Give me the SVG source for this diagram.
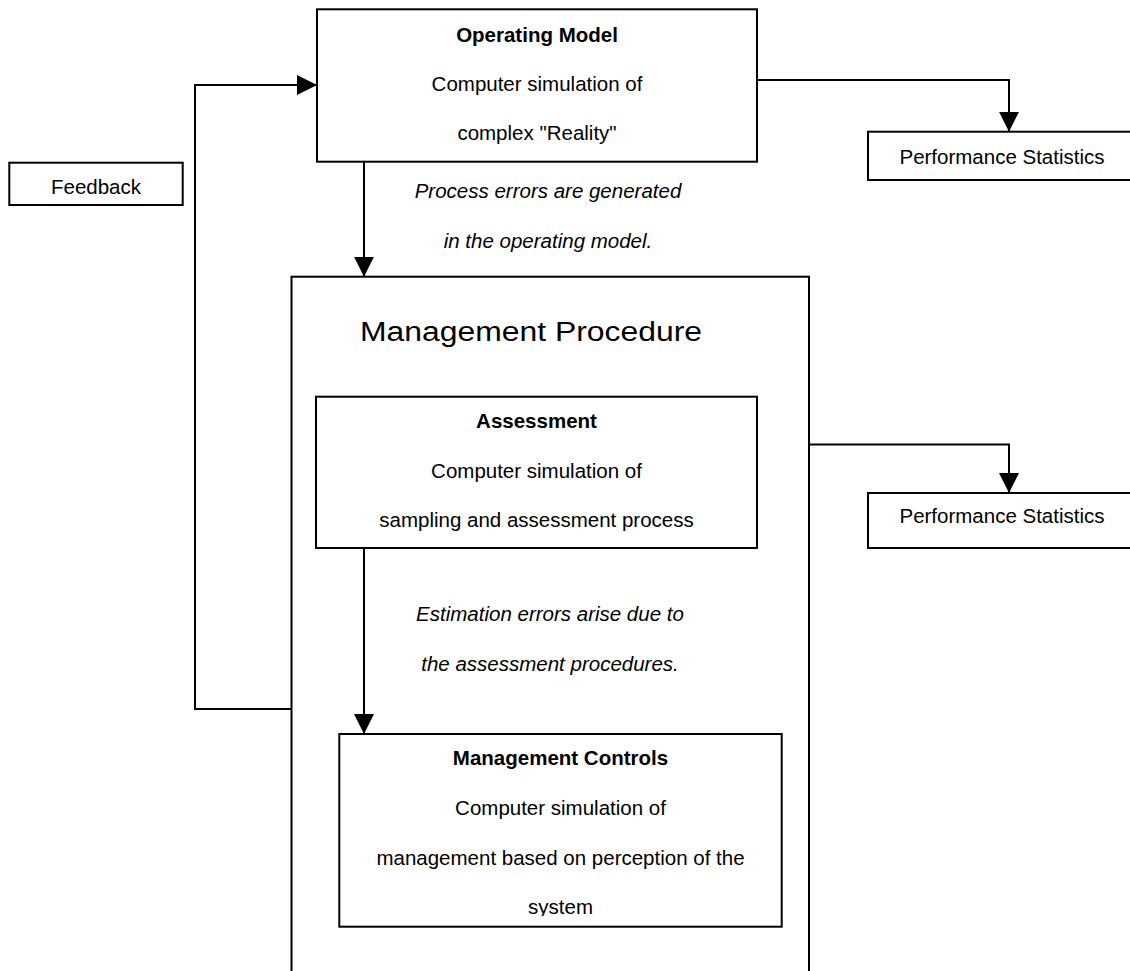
<svg xmlns="http://www.w3.org/2000/svg" width="1130" height="971" viewBox="0 0 1130 971">
<style>
.box{fill:#fff;stroke:#000;stroke-width:2}
.ln{fill:none;stroke:#000;stroke-width:2}
text{font-family:"Liberation Sans",Arial,sans-serif;font-size:20.5px;fill:#000;text-anchor:middle}
.b{font-weight:bold}
.i{font-style:italic}
.t{font-size:27px}
</style>
<defs>
<marker id="ah" markerUnits="userSpaceOnUse" markerWidth="20" markerHeight="20" refX="20" refY="10" orient="auto">
<path d="M0,0 L20,10 L0,20 z" fill="#000"/>
</marker>
<clipPath id="mcclip"><rect x="340" y="735" width="441" height="181"/></clipPath>
</defs>
<rect width="1130" height="971" fill="#fff"/>
<g id="management-procedure">
<rect class="box" x="291.5" y="276.7" width="517.5" height="720"/>
<text class="t" x="531" y="341" textLength="342" lengthAdjust="spacingAndGlyphs">Management Procedure</text>
</g>
<g id="operating-model">
<rect class="box" x="317" y="9.3" width="440" height="152.4"/>
<text class="b" x="537" y="41.7">Operating Model</text>
<text x="537" y="90.7">Computer simulation of</text>
<text x="537" y="140">complex "Reality"</text>
</g>
<g id="feedback">
<rect class="box" x="9.3" y="162.7" width="173.4" height="42.3"/>
<text x="96" y="194">Feedback</text>
</g>
<g id="performance-statistics-1">
<rect class="box" x="868" y="131.7" width="270" height="48.3"/>
<text x="1002" y="164">Performance Statistics</text>
</g>
<g id="performance-statistics-2">
<rect class="box" x="868" y="493" width="270" height="55"/>
<text x="1002" y="523">Performance Statistics</text>
</g>
<g id="assessment">
<rect class="box" x="316" y="396.7" width="441" height="151.3"/>
<text class="b" x="536.5" y="428.3">Assessment</text>
<text x="536.5" y="478">Computer simulation of</text>
<text x="536.5" y="526.7">sampling and assessment process</text>
</g>
<g id="management-controls">
<rect class="box" x="339.3" y="734" width="442.4" height="192.7"/>
<g clip-path="url(#mcclip)">
<text class="b" x="560.5" y="765">Management Controls</text>
<text x="560.5" y="815">Computer simulation of</text>
<text x="560.5" y="865">management based on perception of the</text>
<text x="560.5" y="914">system</text>
</g>
</g>
<g id="labels">
<text class="i" x="548" y="198">Process errors are generated</text>
<text class="i" x="548" y="248">in the operating model.</text>
<text class="i" x="550" y="621">Estimation errors arise due to</text>
<text class="i" x="550" y="671">the assessment procedures.</text>
</g>
<g id="connectors">
<path class="ln" d="M291.5,709 H195 V85 H317" marker-end="url(#ah)"/>
<path class="ln" d="M364,161.7 V276.7" marker-end="url(#ah)"/>
<path class="ln" d="M757,80 H1009 V131.7" marker-end="url(#ah)"/>
<path class="ln" d="M809,444.5 H1009 V493" marker-end="url(#ah)"/>
<path class="ln" d="M364,548 V734" marker-end="url(#ah)"/>
</g>
</svg>
